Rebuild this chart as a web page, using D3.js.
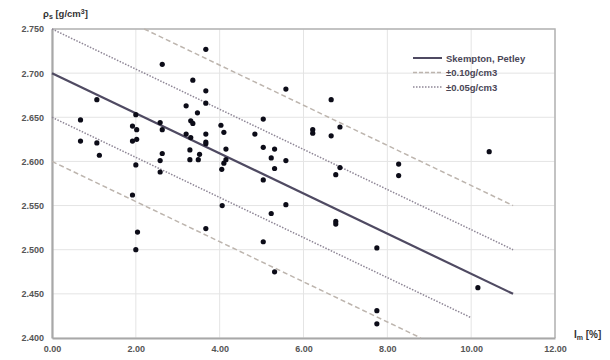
<!DOCTYPE html>
<html>
<head>
<meta charset="utf-8">
<script src="https://cdn.jsdelivr.net/npm/d3@7"></script>
<style>
  body { margin: 0; background: #fff; }
  svg { display: block; font-family: "Liberation Sans", Arial, sans-serif; }
</style>
</head>
<body>
<div id="chart"></div>
<script>
// measured points: clay fraction [%] vs particle density [g/cm3]
var clayPct = [0.68, 0.68, 1.07, 1.07, 1.13, 2.00, 1.92, 2.02, 1.92, 2.02, 2.00, 1.92, 2.04, 2.00,
  2.63, 2.58, 2.63, 2.63, 2.58, 2.58, 3.20, 3.36, 3.47, 3.31, 3.36, 3.20, 3.31, 3.29, 3.52, 3.49,
  3.29, 3.67, 3.67, 3.67, 3.67, 3.67, 3.67, 3.67, 4.03, 4.10, 4.15, 4.15, 4.10, 4.05, 4.06, 4.84,
  5.04, 5.04, 5.31, 5.23, 5.58, 5.31, 5.04, 5.58, 5.23, 5.04, 5.31, 5.58, 6.66, 6.87, 6.22, 6.22,
  6.66, 6.87, 6.77, 6.77, 6.77, 8.27, 8.27, 7.75, 7.75, 7.75, 10.16, 10.43];
var density = [2.647, 2.623, 2.670, 2.621, 2.607, 2.653, 2.640, 2.636, 2.623, 2.625, 2.596, 2.562, 2.520, 2.500,
  2.710, 2.644, 2.636, 2.609, 2.601, 2.588, 2.663, 2.692, 2.655, 2.646, 2.643, 2.631, 2.627, 2.613, 2.608, 2.602,
  2.602, 2.727, 2.680, 2.666, 2.631, 2.622, 2.620, 2.524, 2.641, 2.633, 2.614, 2.602, 2.598, 2.591, 2.550, 2.631,
  2.648, 2.616, 2.614, 2.604, 2.601, 2.592, 2.579, 2.551, 2.541, 2.509, 2.475, 2.682, 2.670, 2.639, 2.636, 2.632,
  2.629, 2.593, 2.585, 2.532, 2.529, 2.597, 2.584, 2.502, 2.431, 2.416, 2.457, 2.611];

// reference lines (end points)
var skemptonLine = [[0, 2.700], [11, 2.450]];
var upper10Line = [[2.2, 2.750], [11, 2.550]];
var lower10Line = [[0, 2.600], [8.8, 2.400]];
var upper05Line = [[0, 2.750], [11, 2.500]];
var lower05Line = [[0, 2.650], [10, 2.423]];

var xTicks = [0, 2, 4, 6, 8, 10, 12];
var yTicks = [2.40, 2.45, 2.50, 2.55, 2.60, 2.65, 2.70, 2.75];
var legendLabels = ["Skempton, Petley", "\u00b10.10g/cm3", "\u00b10.05g/cm3"];

var width = 610, height = 360;
var margin = {top: 29, right: 55, bottom: 22, left: 52};

var x = d3.scaleLinear().domain([0, 12]).range([margin.left, width - margin.right]);
var y = d3.scaleLinear().domain([2.40, 2.75]).range([height - margin.bottom, margin.top]);

var svg = d3.select("#chart").append("svg")
  .attr("width", width)
  .attr("height", height);

// grid
svg.append("g")
  .selectAll("line")
  .data(xTicks)
  .enter().append("line")
  .attr("x1", function(d){ return x(d); })
  .attr("x2", function(d){ return x(d); })
  .attr("y1", y(2.40)).attr("y2", y(2.75))
  .attr("stroke", "#e4e4e4").attr("stroke-width", 1);
svg.append("g")
  .selectAll("line")
  .data(yTicks)
  .enter().append("line")
  .attr("y1", function(d){ return y(d); })
  .attr("y2", function(d){ return y(d); })
  .attr("x1", x(0)).attr("x2", x(12))
  .attr("stroke", "#e4e4e4").attr("stroke-width", 1);

// frame: top and right
svg.append("path")
  .attr("d", "M" + x(0) + "," + y(2.75) + "H" + x(12) + "V" + y(2.40))
  .attr("fill", "none").attr("stroke", "#b4b4b4").attr("stroke-width", 1.5);

// axes
var xAxis = svg.append("g")
  .attr("transform", "translate(0," + y(2.40) + ")")
  .call(d3.axisBottom(x).tickValues(xTicks).tickSize(0).tickPadding(8).tickFormat(d3.format(".2f")));
var yAxis = svg.append("g")
  .attr("transform", "translate(" + x(0) + ",0)")
  .call(d3.axisLeft(y).tickValues(yTicks).tickSize(0).tickPadding(8).tickFormat(d3.format(".3f")));
[xAxis, yAxis].forEach(function(a){
  a.select(".domain").attr("stroke", "#a8a8a8").attr("stroke-width", 2.2);
  a.selectAll("text").attr("fill", "#555").attr("font-size", "9px").attr("font-weight", "bold");
});

// reference lines
var line = d3.line().x(function(d){ return x(d[0]); }).y(function(d){ return y(d[1]); });
function refLine(data, color, w, dash){
  svg.append("path").datum(data)
    .attr("d", line)
    .attr("fill", "none")
    .attr("stroke", color)
    .attr("stroke-width", w)
    .attr("stroke-dasharray", dash);
}
refLine(upper10Line, "#bdb5ae", 1.5, "5,3");
refLine(lower10Line, "#bdb5ae", 1.5, "5,3");
refLine(upper05Line, "#8e8696", 1.5, "1.5,1.5");
refLine(lower05Line, "#8e8696", 1.5, "1.5,1.5");
refLine(skemptonLine, "#4f4a62", 2.2, null);

// points
svg.append("g")
  .selectAll("circle")
  .data(clayPct)
  .enter().append("circle")
  .attr("cx", function(d){ return x(d); })
  .attr("cy", function(d, i){ return y(density[i]); })
  .attr("r", 2.6)
  .attr("fill", "#0c0c18");

// legend
var legend = svg.append("g").attr("transform", "translate(413,58)");
var legendStyles = [
  {color: "#4f4a62", w: 2, dash: null},
  {color: "#bdb5ae", w: 1.5, dash: "4,2"},
  {color: "#8e8696", w: 1.5, dash: "1.5,1.5"}
];
legendLabels.forEach(function(lbl, i){
  var row = legend.append("g").attr("transform", "translate(0," + (i * 14.5) + ")");
  row.append("line")
    .attr("x1", 0).attr("x2", 29).attr("y1", 0).attr("y2", 0)
    .attr("stroke", legendStyles[i].color)
    .attr("stroke-width", legendStyles[i].w)
    .attr("stroke-dasharray", legendStyles[i].dash);
  row.append("text")
    .attr("x", 33).attr("y", 3.5)
    .attr("font-size", "9.5px").attr("font-weight", "bold")
    .attr("fill", "#4a4656")
    .text(lbl);
});

// axis titles
var yTitle = svg.append("text")
  .attr("x", 43).attr("y", 17)
  .attr("font-size", "9.5px").attr("font-weight", "bold").attr("fill", "#333");
yTitle.append("tspan").text("\u03c1");
yTitle.append("tspan").attr("font-size", "7px").attr("dy", 2).text("s");
yTitle.append("tspan").attr("dy", -2).text(" [g/cm");
yTitle.append("tspan").attr("font-size", "7px").attr("dy", -3).text("3");
yTitle.append("tspan").attr("dy", 3).text("]");

var xTitle = svg.append("text")
  .attr("x", 574).attr("y", 338)
  .attr("font-size", "10px").attr("font-weight", "bold").attr("fill", "#333");
xTitle.append("tspan").text("I");
xTitle.append("tspan").attr("font-size", "7px").attr("dy", 2).text("m");
xTitle.append("tspan").attr("dy", -2).text(" [%]");
</script>
</body>
</html>
